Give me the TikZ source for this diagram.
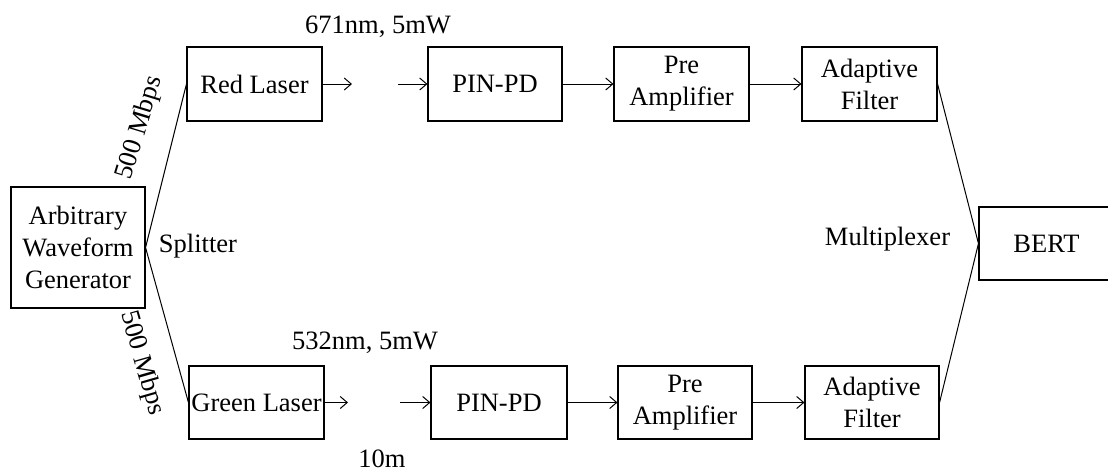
\documentclass[tikz,border=0pt]{standalone}
\usepackage{fontspec}
\setmainfont{Liberation Serif}
\usetikzlibrary{arrows.meta}
\begin{document}
\begin{tikzpicture}[x=1pt,y=-1pt,
  blk/.style={draw,line width=1.1pt,minimum width=135pt,minimum height=74pt,inner sep=0pt,align=center,font=\fontsize{26.5}{32}\selectfont},
  lbl/.style={inner sep=0pt,font=\fontsize{26.5}{32}\selectfont},
  wire/.style={line width=1pt},
  arr/.style={line width=1pt,-{Straight Barb[length=7pt,width=12pt,line width=1pt]}}]
\useasboundingbox (0,0) rectangle (1108,472);
\node[blk,minimum width=134pt,minimum height=121pt] (awg) at (78,247.5) {Arbitrary\\Waveform\\Generator};
\node[blk] (rl) at (254.5,84) {Red Laser};
\node[blk,minimum width=134pt] (pin1) at (495,84) {PIN-PD};
\node[blk] (pre1) at (681.5,84) {Pre\\Amplifier};
\node[blk] (af1) at (869.5,84) {Adaptive\\Filter};
\node[blk,minimum height=73pt] (gl) at (256.5,402.5) {Green Laser};
\node[blk,minimum width=136pt,minimum height=73pt] (pin2) at (499,402.5) {PIN-PD};
\node[blk,minimum width=134pt,minimum height=73pt] (pre2) at (685,402.5) {Pre\\Amplifier};
\node[blk,minimum width=134pt,minimum height=73pt] (af2) at (872,402.5) {Adaptive\\Filter};
\node[blk,minimum height=73pt] (bert) at (1046.5,243.5) {BERT};
\coordinate (r1) at (352,84);
\coordinate (r2) at (398,84);
\coordinate (g1) at (348,402.5);
\coordinate (g2) at (400,402.5);
\draw[wire] (rl.west) -- (awg.east) -- (gl.west);
\draw[arr] (rl.east) -- (r1);
\draw[arr] (r2) -- (pin1.west);
\draw[arr] (pin1.east) -- (pre1.west);
\draw[arr] (pre1.east) -- (af1.west);
\draw[arr] (gl.east) -- (g1);
\draw[arr] (g2) -- (pin2.west);
\draw[arr] (pin2.east) -- (pre2.west);
\draw[arr] (pre2.east) -- (af2.west);
\draw[wire] (af1.east) -- (bert.west) -- (af2.east);
\node[lbl,anchor=base] (t1) at (378,33) {671nm, 5mW};
\node[lbl,anchor=base] (t2) at (365,349) {532nm, 5mW};
\node[lbl,anchor=base] (t3) at (382,467) {10m};
\node[lbl,anchor=base] (sp) at (198,252) {Splitter};
\node[lbl,anchor=base] (mx) at (887.5,245) {Multiplexer};
\node[lbl,rotate=73] (m1) at (140,128) {500 Mbps};
\node[lbl,rotate=-74] (m2) at (142,363) {500 Mbps};
\end{tikzpicture}
\end{document}
